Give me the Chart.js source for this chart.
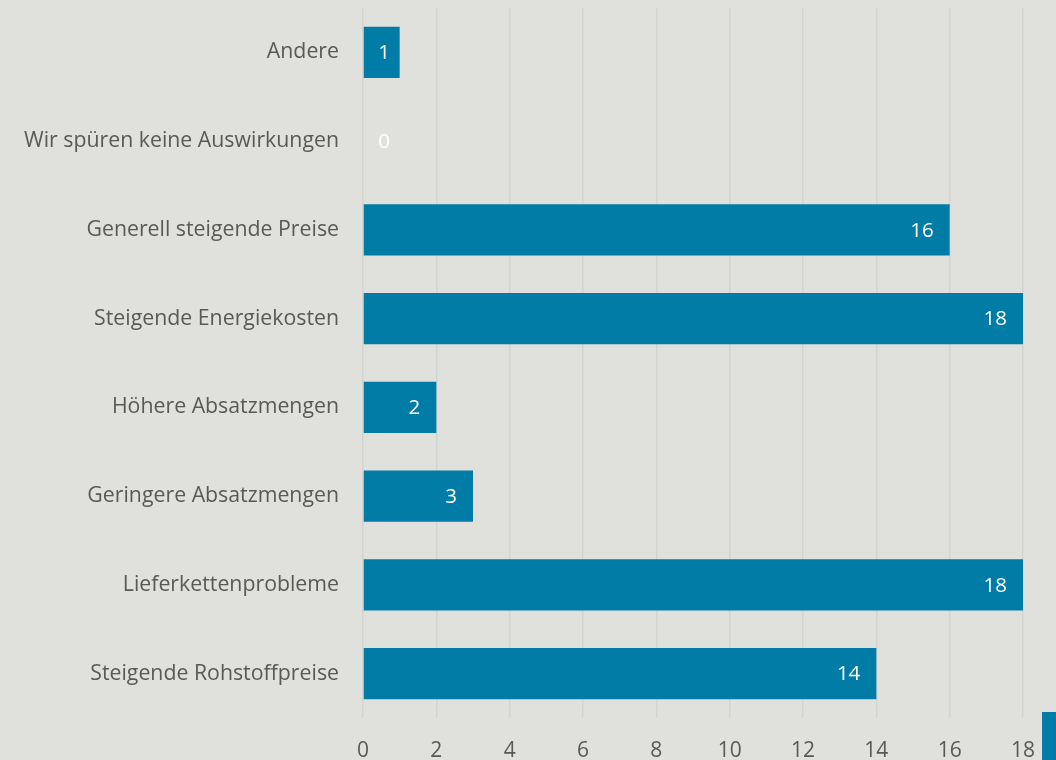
<!DOCTYPE html>
<html>
<head>
<meta charset="utf-8">
<script src="https://cdn.jsdelivr.net/npm/chart.js@4.4.0/dist/chart.umd.min.js"></script>
<style>
  html, body { margin: 0; padding: 0; background: #e0e0dc; }
  #wrap { position: relative; width: 1056px; height: 760px; }
  #swatch { position: absolute; left: 1042px; top: 712px; width: 14px; height: 48px; background: #007ca6; }
</style>
</head>
<body>
<div id="wrap">
  <canvas id="chart" width="1056" height="760"></canvas>
  <div id="swatch"></div>
</div>
<script>
// --- data ---
const categories = [
    'Andere',
    'Wir spüren keine Auswirkungen',
    'Generell steigende Preise',
    'Steigende Energiekosten',
    'Höhere Absatzmengen',
    'Geringere Absatzmengen',
    'Lieferkettenprobleme',
    'Steigende Rohstoffpreise'
];
const counts = [1, 0, 16, 18, 2, 3, 18, 14];
const xTicks = [0, 2, 4, 6, 8, 10, 12, 14, 16, 18];

const barColor = '#007ca6';
const textGrey = '#595959';
const fontFamily = '"Open Sans", sans-serif';

// value labels drawn inside the bar end
const valueLabels = {
    id: 'valueLabels',
    afterDatasetsDraw(chart) {
        const ctx = chart.ctx;
        const meta = chart.getDatasetMeta(0);
        const xScale = chart.scales.x;
        ctx.save();
        ctx.fillStyle = '#ffffff';
        ctx.font = '20.5px ' + fontFamily;
        ctx.textAlign = 'right';
        ctx.textBaseline = 'middle';
        meta.data.forEach((bar, i) => {
            let x = Math.max(bar.x - 16, xScale.left + 27);
            ctx.fillText(String(counts[i]), x, bar.y + 1);
        });
        ctx.restore();
    }
};

const ctx = document.getElementById('chart').getContext('2d');
new Chart(ctx, {
    type: 'bar',
    data: {
        labels: categories,
        datasets: [{
            data: counts,
            backgroundColor: barColor,
            borderWidth: 0,
            barPercentage: 0.575,
            categoryPercentage: 1
        }]
    },
    options: {
        indexAxis: 'y',
        responsive: false,
        animation: false,
        layout: { padding: { top: 8, right: 33, left: 0, bottom: 0 } },
        plugins: { legend: { display: false }, tooltip: { enabled: false } },
        scales: {
            x: {
                min: 0,
                max: 18,
                afterBuildTicks: (scale) => { scale.ticks = xTicks.map(v => ({ value: v })); },
                afterFit: (scale) => { scale.height = 42; },
                grid: { color: '#d3d3cf', lineWidth: 1.5, drawTicks: false },
                border: { display: false },
                ticks: { color: textGrey, font: { size: 21, family: fontFamily }, padding: 20 }
            },
            y: {
                afterFit: (scale) => {
                    scale.width = 363;
                    scale.paddingTop = 0;
                    scale.paddingBottom = 0;
                },
                grid: { display: false, drawTicks: false },
                border: { display: false },
                ticks: { color: textGrey, font: { size: 21.3, family: fontFamily }, padding: 24 }
            }
        }
    },
    plugins: [valueLabels]
});
</script>
</body>
</html>
